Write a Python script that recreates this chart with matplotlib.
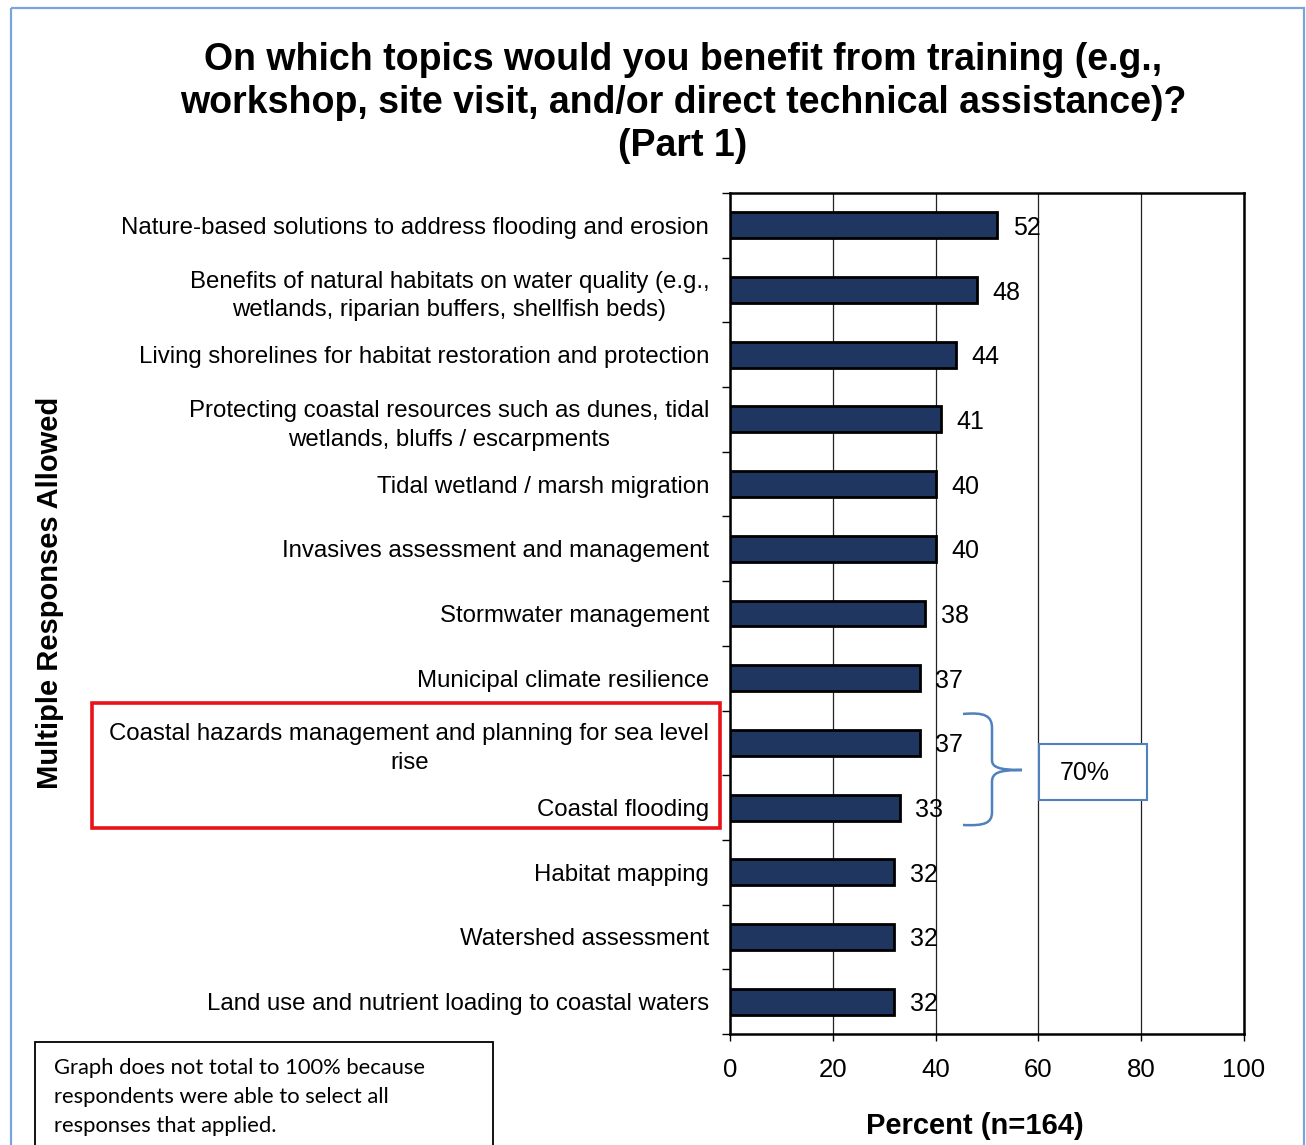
import numpy as np
import matplotlib
matplotlib.use("Agg")
import matplotlib.pyplot as plt
from matplotlib.patches import Rectangle, PathPatch
from matplotlib.path import Path

plt.rcParams['font.family'] = ['Liberation Sans', 'DejaVu Sans']

# data, top to bottom
categories = [
    "Nature-based solutions to address flooding and erosion",
    "Benefits of natural habitats on water quality (e.g.,\nwetlands, riparian buffers, shellfish beds)",
    "Living shorelines for habitat restoration and protection",
    "Protecting coastal resources such as dunes, tidal\nwetlands, bluffs / escarpments",
    "Tidal wetland / marsh migration",
    "Invasives assessment and management",
    "Stormwater management",
    "Municipal climate resilience",
    "Coastal hazards management and planning for sea level\nrise",
    "Coastal flooding",
    "Habitat mapping",
    "Watershed assessment",
    "Land use and nutrient loading to coastal waters",
]
values = [52, 48, 44, 41, 40, 40, 38, 37, 37, 33, 32, 32, 32]
xticks = [0, 20, 40, 60, 80, 100]

title = ("On which topics would you benefit from training (e.g.,\n"
         "workshop, site visit, and/or direct technical assistance)?\n"
         "(Part 1)")
W, H = 1306, 1145

fig = plt.figure(figsize=(W / 100, H / 100), dpi=100)
ax = fig.add_axes([730 / W, 1 - 1034 / H, (1244 - 730) / W, (1034 - 193) / H])

n = len(categories)
y = np.arange(n)
ax.barh(y, values, height=0.4, color='#1F3660', edgecolor='black', linewidth=2, zorder=3)
for i, v in enumerate(values):
    ax.annotate(str(v), (v, i), xytext=(11, 0), textcoords='offset points',
                va='center_baseline', ha='left', fontsize=18, zorder=2)

ax.set_xlim(0, 100)
ax.set_ylim(n - 0.5, -0.5)
ax.set_xticks(xticks)
ax.set_xticklabels([str(t) for t in xticks], fontsize=18.5)
ax.set_yticks(y)
ax.set_yticklabels(categories, fontsize=17.3)
for lab in ax.get_yticklabels():
    lab.set_multialignment('center')
    lab.set_linespacing(1.4)
ax.set_yticks(np.arange(-0.5, n, 1), minor=True)
ax.tick_params(axis='y', which='major', length=0, pad=15)
ax.tick_params(axis='y', which='minor', length=6, width=1)
ax.tick_params(axis='x', length=5, width=1, pad=12)
ax.grid(axis='x', color='#222222', linewidth=0.9)
ax.set_axisbelow(True)
for s in ax.spines.values():
    s.set_linewidth(1.8)

fig.text(683 / W, 1 - 103 / H, title, ha='center', va='center', fontsize=27,
         fontweight='bold', linespacing=1.26)
fig.text(50 / W, 1 - 593 / H, "Multiple Responses Allowed", rotation=90,
         ha='center', va='center', fontsize=21, fontweight='bold')
fig.text(975 / W, 1 - 1126 / H, "Percent (n=164)", ha='center', va='center',
         fontsize=21, fontweight='bold')

# overlay in pixel coordinates for boxes and bracket
ov = fig.add_axes([0, 0, 1, 1])
ov.set_xlim(0, W)
ov.set_ylim(H, 0)
ov.axis('off')
ov.patch.set_alpha(0)

ov.add_patch(Rectangle((11, 8), 1293, 1150, fill=False, edgecolor='#7BA3DC', lw=1.6))
ov.add_patch(Rectangle((92, 703), 628, 125, fill=False, edgecolor='#E8131A', lw=2.6))
ov.add_patch(Rectangle((1039, 744), 108, 56, facecolor='white', edgecolor='#4F81BD', lw=1.5))
ov.text(1085, 773, "70%", ha='center', va='center', fontsize=18)

verts = [(963, 714), (985, 712), (992, 716), (992, 728),
         (992, 760),
         (992, 767), (998, 770), (1022, 770),
         (998, 770), (992, 773), (992, 782),
         (992, 812),
         (992, 823), (985, 826), (963, 825)]
codes = [Path.MOVETO, Path.CURVE4, Path.CURVE4, Path.CURVE4,
         Path.LINETO,
         Path.CURVE4, Path.CURVE4, Path.CURVE4,
         Path.CURVE4, Path.CURVE4, Path.CURVE4,
         Path.LINETO,
         Path.CURVE4, Path.CURVE4, Path.CURVE4]
ov.add_patch(PathPatch(Path(verts, codes), fill=False, edgecolor='#4F81BD', lw=1.8))

ov.add_patch(Rectangle((35, 1042), 458, 130, facecolor='white', edgecolor='black', lw=1.3))
note = ["Graph does not total to 100% because",
        "respondents were able to select all",
        "responses that applied."]
for k, line in enumerate(note):
    ov.text(54, 1068 + 29 * k, line, ha='left', va='center', fontsize=15.8,
            family=['Lato', 'DejaVu Sans'])

fig.savefig("out.png", dpi=100)
